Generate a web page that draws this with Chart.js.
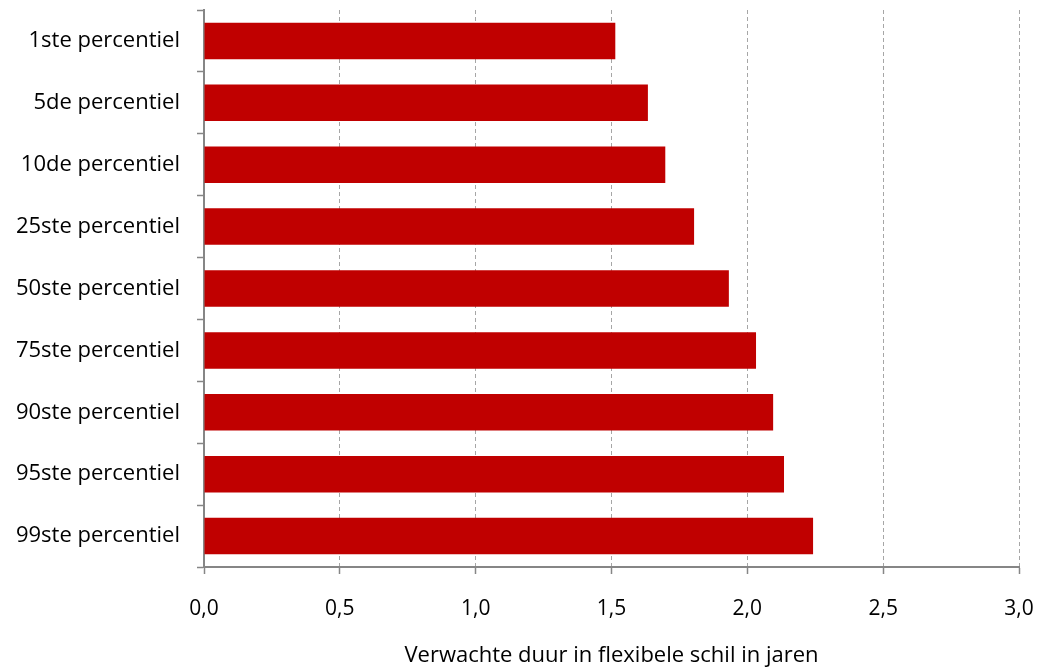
<!DOCTYPE html>
<html>
<head>
<meta charset="utf-8">
<script src="https://cdn.jsdelivr.net/npm/chart.js@4/dist/chart.umd.min.js"></script>
<style>
  html, body { margin: 0; padding: 0; background: #fff; }
  #wrap { width: 1042px; height: 669px; }
</style>
</head>
<body>
<div id="wrap"><canvas id="myChart" width="1042" height="669"></canvas></div>
<script>
const percentiles = [
  '1ste percentiel', '5de percentiel', '10de percentiel', '25ste percentiel',
  '50ste percentiel', '75ste percentiel', '90ste percentiel', '95ste percentiel',
  '99ste percentiel'
];
const duration = [1.514, 1.634, 1.698, 1.804, 1.932, 2.032, 2.095, 2.135, 2.242];
const xTicks = [0, 0.5, 1, 1.5, 2, 2.5, 3];
const xTitle = 'Verwachte duur in flexibele schil in jaren';

const fontFamily = '"Open Sans", Lato, sans-serif';

const ctx = document.getElementById('myChart');
new Chart(ctx, {
  type: 'bar',
  data: {
    labels: percentiles,
    datasets: [{
      data: duration,
      backgroundColor: '#C00000',
      borderWidth: 0,
      barPercentage: 0.59,
      categoryPercentage: 1
    }]
  },
  options: {
    indexAxis: 'y',
    responsive: false,
    animation: false,
    layout: { padding: { top: 10, right: 23, left: 0, bottom: 0 } },
    plugins: { legend: { display: false }, tooltip: { enabled: false } },
    scales: {
      x: {
        min: xTicks[0],
        max: xTicks[xTicks.length - 1],
        afterBuildTicks: (scale) => { scale.ticks = xTicks.map(v => ({ value: v })); },
        afterFit: (scale) => {
          scale.height = 102;
          scale.paddingLeft = 0;
          scale.paddingRight = 0;
        },
        grid: {
          color: '#A6A6A6',
          lineWidth: 1,
          tickLength: 7,
          tickColor: '#868686',
          tickWidth: 1.5
        },
        border: { display: true, color: '#868686', width: 2, dash: [4, 3] },
        ticks: {
          color: '#000',
          padding: 22,
          font: { family: fontFamily, size: 21 },
          callback: (v) => Number(v).toFixed(1).replace('.', ',')
        },
        title: {
          display: true,
          text: xTitle,
          color: '#000',
          font: { family: fontFamily, size: 22 },
          padding: { top: 5, bottom: 0 }
        }
      },
      y: {
        afterFit: (scale) => {
          scale.width = 204;
          scale.paddingTop = 0;
          scale.paddingBottom = 0;
        },
        grid: {
          drawOnChartArea: false,
          tickLength: 7,
          tickColor: '#868686',
          tickWidth: 1.5,
          offset: true
        },
        border: { display: true, color: '#868686', width: 2 },
        ticks: {
          color: '#000',
          padding: 17,
          font: { family: fontFamily, size: 22 }
        }
      }
    }
  }
});
</script>
</body>
</html>
